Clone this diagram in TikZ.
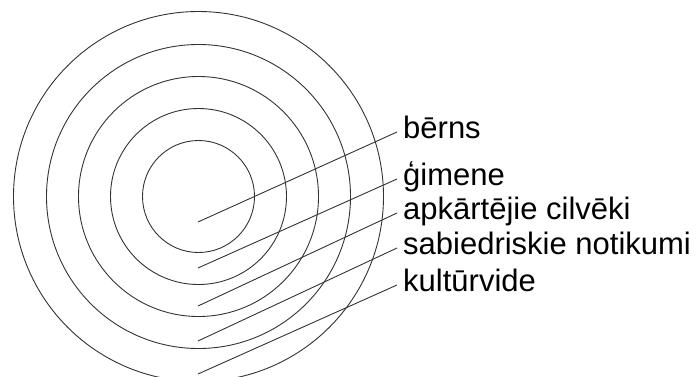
\documentclass[tikz,border=0pt]{standalone}
\usepackage{fontspec}
\setmainfont{Liberation Sans}
\usepackage{tikz}
\usetikzlibrary{calc}

\begin{document}
\begin{tikzpicture}[
    x=1pt, y=-1pt,
    ring/.style={draw=black!80, line width=0.9pt},
    lead/.style={draw=black!80, line width=0.9pt},
    lab/.style={anchor=base west, inner sep=0pt, font=\fontsize{31}{36}\selectfont}]
  \useasboundingbox (0,0) rectangle (696,376);
  \coordinate (c) at (198.5,196.5);
  % rings
  \foreach \r in {56,88,120,152,185}
    \draw[ring] (c) circle[radius=\r];
  % labels
  \node[lab] (bern) at (403,138) {bērns};
  \node[lab] (gim)  at (403,185) {ģimene};
  \node[lab] (apk)  at (403,219) {apkārtējie cilvēki};
  \node[lab] (sab)  at (403,254) {sabiedriskie notikumi};
  \node[lab] (kult) at (403,291) {kultūrvide};
  % leader lines
  \coordinate (s1) at (198,222);
  \coordinate (s2) at (198,268);
  \coordinate (s3) at (198,306);
  \coordinate (s4) at (198,341);
  \coordinate (s5) at (198,374);
  \draw[lead] (s1) -- ([xshift=-6pt,yshift=6pt]bern.base west);
  \draw[lead] (s2) -- ([xshift=-6pt,yshift=6pt]gim.base west);
  \draw[lead] (s3) -- ([xshift=-6pt,yshift=6pt]apk.base west);
  \draw[lead] (s4) -- ([xshift=-6pt,yshift=6pt]sab.base west);
  \draw[lead] (s5) -- ([xshift=-6pt,yshift=6pt]kult.base west);
\end{tikzpicture}
\end{document}
